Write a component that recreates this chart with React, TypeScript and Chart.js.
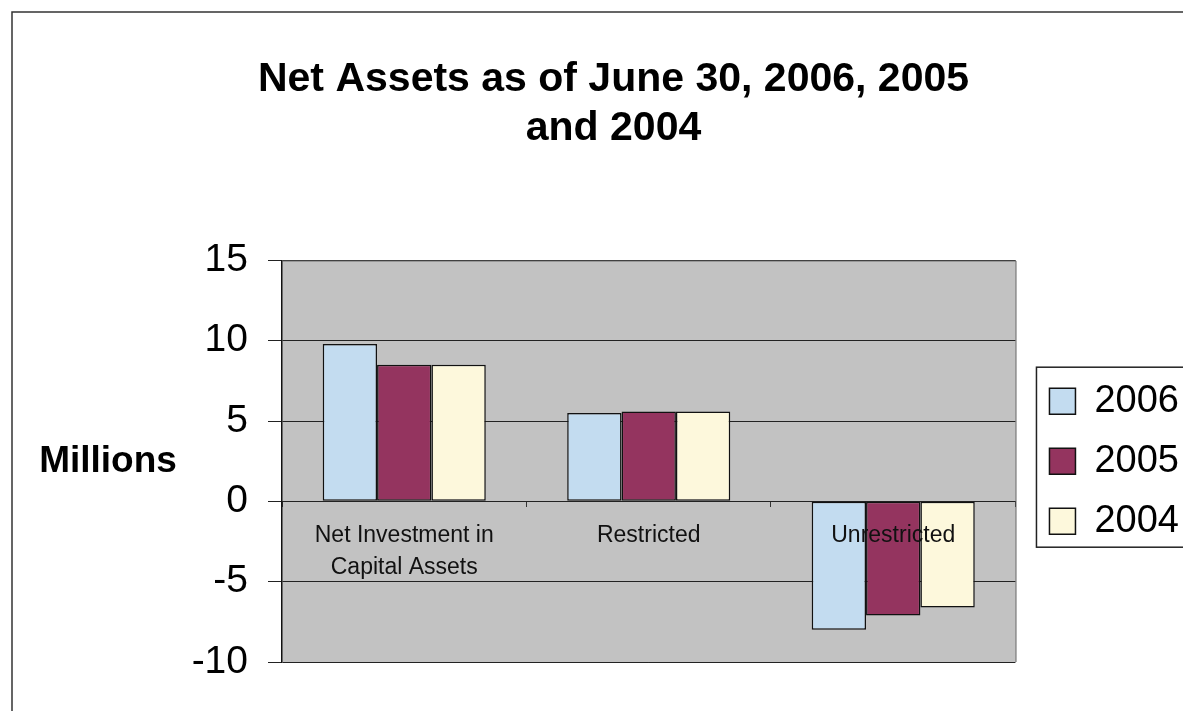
import React, { useEffect, useRef } from 'react';
import { Chart, registerables } from 'chart.js';

Chart.register(...registerables);

const categories: (string | string[])[] = [['Net Investment in', 'Capital Assets'], 'Restricted', 'Unrestricted'];
const seriesLabels = ['2006', '2005', '2004'];
const values2006 = [9.8, 5.5, -8.0];
const values2005 = [8.5, 5.6, -7.1];
const values2004 = [8.5, 5.6, -6.6];
const seriesColors = ['#c3dcf0', '#94345f', '#fdf8dc'];
const yMin = -10;
const yMax = 15;
const yStep = 5;
const titleLines = ['Net Assets as of June 30, 2006, 2005', 'and 2004'];
const yAxisLabel = 'Millions';

const FONT = "'Liberation Sans', Arial, sans-serif";

const decorPlugin = {
  id: 'decor',
  beforeDraw(chart: any) {
    const { ctx, chartArea: a } = chart;
    ctx.save();
    ctx.fillStyle = '#ffffff';
    ctx.fillRect(0, 0, chart.width, chart.height);
    ctx.fillStyle = '#c2c2c2';
    ctx.fillRect(a.left, a.top, a.right - a.left, a.bottom - a.top);
    ctx.restore();
  },
  afterDraw(chart: any) {
    const { ctx, chartArea: a } = chart;
    ctx.save();
    // plot area border (top, right)
    ctx.strokeStyle = '#555';
    ctx.lineWidth = 1;
    ctx.beginPath();
    ctx.moveTo(a.left, a.top + 0.5);
    ctx.lineTo(a.right + 0.5, a.top + 0.5);
    ctx.lineTo(a.right + 0.5, a.bottom);
    ctx.stroke();
    // outer frame
    ctx.strokeStyle = '#333';
    ctx.lineWidth = 1.5;
    ctx.beginPath();
    ctx.moveTo(12, chart.height);
    ctx.lineTo(12, 12);
    ctx.lineTo(chart.width, 12);
    ctx.stroke();
    // y axis label
    ctx.fillStyle = '#000';
    ctx.font = `bold 37px ${FONT}`;
    ctx.textAlign = 'center';
    ctx.textBaseline = 'middle';
    ctx.fillText(yAxisLabel, 108, (a.top + a.bottom) / 2 + 1);
    // legend border
    const hb = chart.legend && chart.legend.legendHitBoxes;
    if (hb && hb.length) {
      const first = hb[0];
      const last = hb[hb.length - 1];
      const x1 = first.left - 13;
      const y1 = first.top - 15;
      const y2 = last.top + last.height + 7;
      ctx.strokeStyle = '#222';
      ctx.lineWidth = 1.5;
      ctx.strokeRect(x1, y1, chart.width + 10 - x1, y2 - y1);
    }
    ctx.restore();
  },
};

export default function App() {
  const canvasRef = useRef<HTMLCanvasElement | null>(null);

  useEffect(() => {
    if (!canvasRef.current) return;
    const seriesValues = [values2006, values2005, values2004];
    const chart = new Chart(canvasRef.current, {
      type: 'bar',
      data: {
        labels: categories,
        datasets: seriesLabels.map((label, i) => ({
          label,
          data: seriesValues[i],
          backgroundColor: seriesColors[i],
          borderColor: '#111',
          borderWidth: 1.5,
          borderSkipped: false,
          barPercentage: 1,
          categoryPercentage: 0.667,
          yAxisID: 'y',
        })),
      },
      options: {
        responsive: false,
        animation: false,
        layout: { padding: { left: 38, right: -6, top: 0, bottom: 49 } },
        plugins: {
          title: {
            display: true,
            text: titleLines,
            color: '#000',
            font: { family: FONT, size: 41, weight: 'bold', lineHeight: 1.2 },
            padding: { top: 55, bottom: 107 },
          },
          legend: {
            display: true,
            position: 'right',
            fullSize: false,
            align: 'center',
            labels: {
              boxWidth: 26,
              boxHeight: 26,
              padding: 22,
              color: '#000',
              font: { family: FONT, size: 38 },
            },
          },
          tooltip: { enabled: false },
        },
        scales: {
          x: {
            type: 'category',
            position: { y: 0 } as any,
            grid: {
              display: true,
              drawOnChartArea: false,
              drawTicks: true,
              tickLength: 6,
              offset: true,
              color: '#333',
            },
            border: { display: false },
            ticks: {
              z: 1,
              color: '#111',
              font: { family: FONT, size: 23, lineHeight: 1.4 },
              padding: 12,
              maxRotation: 0,
              minRotation: 0,
              autoSkip: false,
            },
          },
          y: {
            type: 'linear',
            position: 'left',
            min: yMin,
            max: yMax,
            ticks: {
              stepSize: yStep,
              color: '#000',
              font: { family: FONT, size: 39 },
              padding: 20,
            },
            grid: {
              color: '#222',
              lineWidth: 1,
              drawTicks: true,
              tickLength: 14,
              tickColor: '#222',
            },
            border: { display: true, color: '#111', width: 1.5 },
            afterFit(s: any) {
              s.width = 244;
            },
          },
          yR: {
            type: 'linear',
            position: 'right',
            display: true,
            grid: { display: false },
            ticks: { display: false },
            border: { display: false },
            afterFit(s: any) {
              s.width = 12;
            },
          },
        },
      },
      plugins: [decorPlugin],
    } as any);
    return () => chart.destroy();
  }, []);

  return (
    <div style={{ position: 'absolute', left: 0, top: 0, width: 1183, height: 711 }}>
      <canvas ref={canvasRef} width={1183} height={711} style={{ display: 'block' }} />
    </div>
  );
}
